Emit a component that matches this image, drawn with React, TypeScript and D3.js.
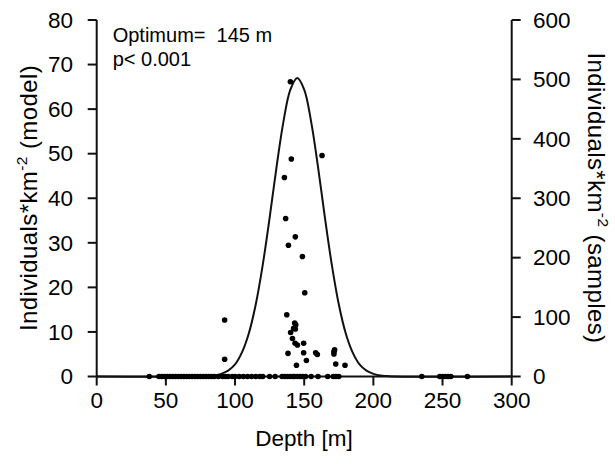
import React from "react";
import * as d3 from "d3";

// ---- data ----
const xTicks = [0, 50, 100, 150, 200, 250, 300];
const yLeftTicks = [0, 10, 20, 30, 40, 50, 60, 70, 80];
const yRightTicks = [0, 100, 200, 300, 400, 500, 600];

// model curve (Individuals*km-2, left axis) read at depths
const curveDepth = [0, 75, 80, 85, 90, 95, 100, 105, 110, 115, 120, 125, 130, 135, 140, 145, 150, 155, 160, 165, 170, 175, 180, 185, 190, 195, 200, 205, 210, 215, 300];
const curveValue = [0, 0, 0.1, 0.2, 0.6, 1.3, 2.7, 5.4, 9.7, 16.2, 25.0, 35.6, 47.0, 57.2, 64.4, 67.0, 64.4, 57.2, 47.0, 35.6, 25.0, 16.2, 9.7, 5.4, 2.7, 1.3, 0.6, 0.2, 0.1, 0, 0];

// samples (right axis), non-zero
const sampleDepth = [140, 140.7, 162.9, 135.7, 136.6, 143.6, 138.6, 148.7, 92.5, 92.5, 150.4, 137.4, 143.1, 143.9, 142.4, 143.6, 140.2, 141.5, 143.4, 145.1, 149.6, 138.3, 149.6, 158.3, 159.5, 151.6, 144.4, 171.5, 171.5, 172, 172.8, 179.5];
const sampleValue = [496, 366, 372, 335, 266, 235, 221, 202, 95, 29, 141, 104, 90, 87, 81, 80, 74, 64, 56, 53, 56, 39, 40, 40, 37, 27, 19, 42, 38, 45, 21, 19];

// samples with zero individuals
const zeroDepth = [38, 45, 47, 49, 51, 53, 55, 57, 59, 61, 63, 65, 67, 69, 71, 73, 75, 77, 79, 81, 83, 85, 88, 91, 93, 95, 98, 100, 103, 106, 109, 112, 115, 118, 120, 125, 129, 134, 136, 138, 140, 142, 143, 145, 147, 149, 151, 155, 160, 167, 171, 173, 175, 235, 248, 250, 252, 254, 256, 268];

const W = 615;
const H = 464;
const ink = "#111";
const font = "Arial, 'Liberation Sans', sans-serif";

export default function App() {
  const x = d3.scaleLinear().domain([0, 300]).range([96.7, 511.7]);
  const yL = d3.scaleLinear().domain([0, 80]).range([376.5, 20]);
  const yR = d3.scaleLinear().domain([0, 600]).range([376.5, 20]);

  const line = d3
    .line<number>()
    .x((_, i) => x(curveDepth[i]))
    .y((d) => yL(d))
    .curve(d3.curveCatmullRom.alpha(0.5));

  const x0 = x(0);
  const x1 = x(300);
  const yb = yL(0);

  return (
    <svg width={W} height={H} style={{ position: "absolute", left: 0, top: 0, background: "#fff" }} fontFamily={font}>
      <rect width={W} height={H} fill="#fff" />
      {/* axes */}
      <line x1={x0} x2={x0} y1={yL(80)} y2={yb} stroke={ink} strokeWidth={2} />
      <line x1={x1} x2={x1} y1={yR(600)} y2={yb} stroke={ink} strokeWidth={2} />
      <line x1={x0} x2={x1} y1={yb} y2={yb} stroke={ink} strokeWidth={2} />
      {yLeftTicks.map((t) => (
        <g key={"l" + t}>
          <line x1={x0 - 9} x2={x0} y1={yL(t)} y2={yL(t)} stroke={ink} strokeWidth={2} />
          <text x={73} y={yL(t) + 7.8} fontSize={22.5} textAnchor="end" fill="#000">
            {t}
          </text>
        </g>
      ))}
      {yRightTicks.map((t) => (
        <g key={"r" + t}>
          <line x1={x1} x2={x1 + 9} y1={yR(t)} y2={yR(t)} stroke={ink} strokeWidth={2} />
          <text x={533} y={yR(t) + 7.8} fontSize={22.5} textAnchor="start" fill="#000">
            {t}
          </text>
        </g>
      ))}
      {xTicks.map((t) => (
        <g key={"x" + t}>
          <line x1={x(t)} x2={x(t)} y1={yb} y2={yb + 9} stroke={ink} strokeWidth={2} />
          <text x={x(t)} y={408} fontSize={22.5} textAnchor="middle" fill="#000">
            {t}
          </text>
        </g>
      ))}

      {/* model curve */}
      <path d={line(curveValue) || ""} fill="none" stroke={ink} strokeWidth={2} />

      {/* samples */}
      {zeroDepth.map((d, i) => (
        <circle key={"z" + i} cx={x(d)} cy={yR(0)} r={2.8} fill="#000" />
      ))}
      {sampleDepth.map((d, i) => (
        <circle key={"s" + i} cx={x(d)} cy={yR(sampleValue[i])} r={2.8} fill="#000" />
      ))}

      {/* annotation */}
      <text x={112.7} y={41.5} fontSize={20} fill="#000" style={{ whiteSpace: "pre" }}>
        {"Optimum=  145 m"}
      </text>
      <text x={112.7} y={65.5} fontSize={20} fill="#000">
        {"p< 0.001"}
      </text>

      {/* axis titles */}
      <text x={304} y={446} fontSize={22.5} textAnchor="middle" fill="#000">
        Depth [m]
      </text>
      <text x={36.5} y={198} fontSize={24} letterSpacing={0.4} textAnchor="middle" fill="#000" transform="rotate(-90 36.5 198)">
        Individuals*km
        <tspan fontSize={15.5} dy={-9.5}>-2</tspan>
        <tspan dy={9.5}> (model)</tspan>
      </text>
      <text x={588} y={198} fontSize={24} letterSpacing={0.4} textAnchor="middle" fill="#000" transform="rotate(90 588 198)">
        Individuals*km
        <tspan fontSize={15.5} dy={-9.5}>-2</tspan>
        <tspan dy={9.5}> (samples)</tspan>
      </text>
    </svg>
  );
}
